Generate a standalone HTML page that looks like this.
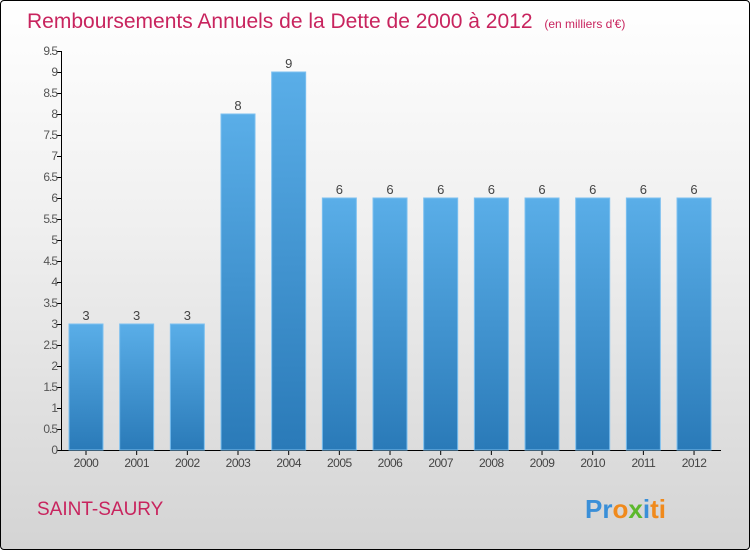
<!DOCTYPE html>
<html><head><meta charset="utf-8"><style>
body{margin:0}
#wrap{width:748px;height:548px;border:1px solid #000;border-radius:4px;background:linear-gradient(#ffffff,#f0f0f0 40%,#d4d4d4);position:relative;overflow:hidden;font-family:"Liberation Sans",sans-serif}
</style></head><body>
<div id="wrap">
<svg width="748" height="548">
<defs><linearGradient id="bg" x1="0" y1="0" x2="0" y2="1"><stop offset="0" stop-color="#5aaee8"/><stop offset="1" stop-color="#2a7ab8"/></linearGradient></defs>
<text x="26" y="27" font-size="21" fill="#c8245e">Remboursements Annuels de la Dette de 2000 à 2012 <tspan font-size="12" dx="6">(en milliers d'€)</tspan></text>
<g id="axes"></g><g id="bars"></g>
<text x="36" y="514" font-size="19" fill="#c8245e">SAINT-SAURY</text>
<text x="584" y="517" font-size="26" font-weight="bold" fill="#f08a1c"><tspan fill="#3a8fd8">Pr</tspan><tspan fill="#f08a1c">o</tspan><tspan fill="#5cb82c">x</tspan><tspan fill="#3a8fd8">i</tspan><tspan fill="#f08a1c">ti</tspan></text>
</svg></div>
<script>
const categories=["2000","2001","2002","2003","2004","2005","2006","2007","2008","2009","2010","2011","2012"];
const values=[3,3,3,8,9,6,6,6,6,6,6,6,6];
const yTicks=[0,0.5,1,1.5,2,2.5,3,3.5,4,4.5,5,5.5,6,6.5,7,7.5,8,8.5,9,9.5];
const NS="http://www.w3.org/2000/svg";
const y=v=>449-v*42, x=i=>85+i*50.67;
function mk(t,a,p){const e=document.createElementNS(NS,t);for(const k in a)e.setAttribute(k,a[k]);p.appendChild(e);return e;}
const ax=document.getElementById('axes'), bs=document.getElementById('bars');
const yl=mk('line',{x1:60.5,y1:y(9.5),x2:60.5,y2:449.5,stroke:'#000'},ax);


const xl=mk('line',{x1:60,y1:449.5,x2:720,y2:449.5,stroke:'#000'},ax);


yTicks.forEach(v=>{
 mk('line',{x1:56,x2:61,y1:y(v)+.5,y2:y(v)+.5,stroke:'#000'},ax);
 const t=mk('text',{x:56,y:y(v)+4,'text-anchor':'end','font-size':12,fill:'#555','letter-spacing':'-1'},ax);
 t.textContent=String(v);
 
 
});
categories.forEach((c,i)=>{
 const cx=x(i);
 mk('line',{x1:cx,x2:cx,y1:449,y2:454,stroke:'#000'},ax);
 const t=mk('text',{x:cx,y:466,'text-anchor':'middle','font-size':12,fill:'#444','letter-spacing':'-0.5'},ax);
 t.textContent=c;
 
 
 const r=mk('rect',{x:cx-17,y:y(values[i]),width:34,height:449-y(values[i]),fill:'url(#bg)',stroke:'#7cc0f0','stroke-width':1},bs);
 
 
 const l=mk('text',{x:cx,y:y(values[i])-4,'text-anchor':'middle','font-size':13,fill:'#444'},bs);
 l.textContent=String(values[i]);
 
 
});
</script>
</body></html>
